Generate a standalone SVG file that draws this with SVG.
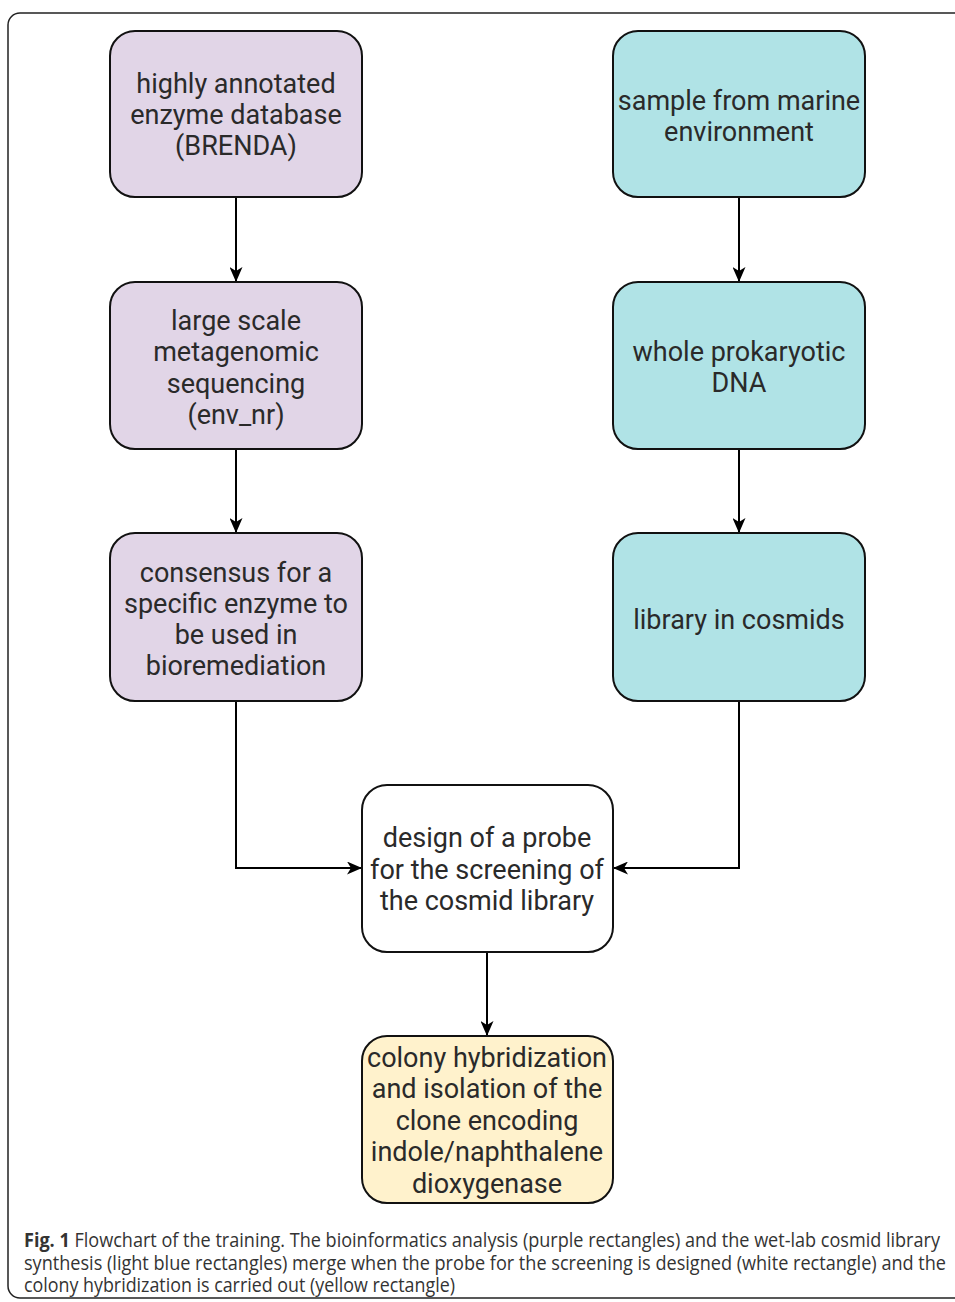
<svg xmlns="http://www.w3.org/2000/svg" width="955" height="1302" viewBox="0 0 955 1302">
<style>
.box{stroke:#111;stroke-width:2}
.p{fill:#E1D5E7}
.c{fill:#B0E3E6}
.w{fill:#FFFFFF}
.y{fill:#FFF2CC}
.t{font-family:Roboto,"Liberation Sans",sans-serif;font-size:27px;fill:#2a2a2a;text-anchor:middle}
.edge{fill:none;stroke:#000;stroke-width:2}
.cap{font-family:"Open Sans","Liberation Sans",sans-serif;font-size:19.5px;fill:#333}
</style>
<defs>
<marker id="ah" viewBox="0 0 15 13" refX="14" refY="6.5" markerWidth="15" markerHeight="13" markerUnits="userSpaceOnUse" orient="auto">
<path d="M0,0 L15,6.5 L0,13 L4,6.5 Z" fill="#000"/>
</marker>
</defs>
<rect x="8" y="13" width="980" height="1285" rx="12" fill="#fff" stroke="#222" stroke-width="1.5"/>
<g id="connectors">
<path class="edge" d="M236,198 L236,281" marker-end="url(#ah)"/>
<path class="edge" d="M236,449 L236,532" marker-end="url(#ah)"/>
<path class="edge" d="M739,198 L739,281" marker-end="url(#ah)"/>
<path class="edge" d="M739,449 L739,532" marker-end="url(#ah)"/>
<path class="edge" d="M236,701 L236,868 L361,868" marker-end="url(#ah)"/>
<path class="edge" d="M739,701 L739,868 L614,868" marker-end="url(#ah)"/>
<path class="edge" d="M487,953 L487,1035" marker-end="url(#ah)"/>
</g>
<g id="n1"><rect class="box p" x="110" y="31" width="252" height="166" rx="25"/>
<text class="t" x="236" y="93">highly annotated</text><text class="t" x="236" y="124">enzyme database</text><text class="t" x="236" y="155">(BRENDA)</text></g>
<g id="n2"><rect class="box p" x="110" y="282" width="252" height="167" rx="25"/>
<text class="t" x="236" y="330">large scale</text><text class="t" x="236" y="361">metagenomic</text><text class="t" x="236" y="393">sequencing</text><text class="t" x="236" y="424">(env_nr)</text></g>
<g id="n3"><rect class="box p" x="110" y="533" width="252" height="168" rx="25"/>
<text class="t" x="236" y="582">consensus for a</text><text class="t" x="236" y="613">specific enzyme to</text><text class="t" x="236" y="644">be used in</text><text class="t" x="236" y="675">bioremediation</text></g>
<g id="n4"><rect class="box c" x="613" y="31" width="252" height="166" rx="25"/>
<text class="t" x="739" y="110">sample from marine</text><text class="t" x="739" y="141">environment</text></g>
<g id="n5"><rect class="box c" x="613" y="282" width="252" height="167" rx="25"/>
<text class="t" x="739" y="361">whole prokaryotic</text><text class="t" x="739" y="392">DNA</text></g>
<g id="n6"><rect class="box c" x="613" y="533" width="252" height="168" rx="25"/>
<text class="t" x="739" y="629">library in cosmids</text></g>
<g id="n7"><rect class="box w" x="362" y="785" width="251" height="167" rx="25"/>
<text class="t" x="487" y="847">design of a probe</text><text class="t" x="487" y="879">for the screening of</text><text class="t" x="487" y="910">the cosmid library</text></g>
<g id="n8"><rect class="box y" x="362" y="1036" width="251" height="167" rx="25"/>
<text class="t" x="487" y="1067">colony hybridization</text><text class="t" x="487" y="1098">and isolation of the</text><text class="t" x="487" y="1130">clone encoding</text><text class="t" x="487" y="1161">indole/naphthalene</text><text class="t" x="487" y="1193">dioxygenase</text></g>
<g id="caption">
<text class="cap" transform="translate(24,1247) scale(0.85,1)" x="0" y="0" textLength="1077.6" lengthAdjust="spacingAndGlyphs"><tspan font-weight="bold">Fig. 1</tspan> Flowchart of the training. The bioinformatics analysis (purple rectangles) and the wet-lab cosmid library</text>
<text class="cap" transform="translate(24,1269.5) scale(0.85,1)" x="0" y="0" textLength="1084.7" lengthAdjust="spacingAndGlyphs">synthesis (light blue rectangles) merge when the probe for the screening is designed (white rectangle) and the</text>
<text class="cap" transform="translate(24,1292) scale(0.85,1)" x="0" y="0" textLength="507" lengthAdjust="spacingAndGlyphs">colony hybridization is carried out (yellow rectangle)</text>
</g>
</svg>
